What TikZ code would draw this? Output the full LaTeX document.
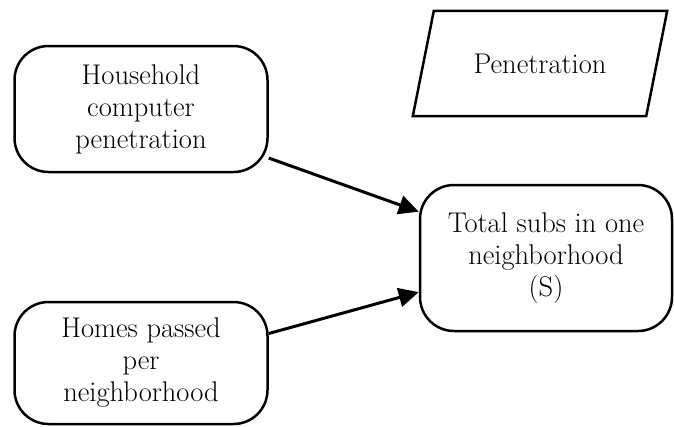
\documentclass[tikz,border=0pt]{standalone}
\usetikzlibrary{arrows.meta,calc}
\begin{document}
\begin{tikzpicture}[x=1pt,y=-1pt,
  box/.style={draw,line width=2.5pt,rounded corners=34pt,align=center,inner sep=0pt,
    font=\fontsize{28.5}{32}\selectfont},
  lbl/.style={align=center,inner sep=0pt,font=\fontsize{28.5}{32}\selectfont},
  arr/.style={line width=3pt,-{Triangle[length=20pt,width=19pt]}}]
\useasboundingbox (0,0) rectangle (674,426);
\node[box,minimum width=253pt,minimum height=126pt] (hh) at (141,109) {Household\\computer\\penetration};
\node[box,minimum width=253pt,minimum height=122pt] (hp) at (141,363) {Homes passed\\per\\neighborhood};
\node[box,minimum width=252pt,minimum height=146pt] (ts) at (546,258) {Total subs in one\\neighborhood\\(S)};
\node[lbl,minimum width=233pt,minimum height=105pt] (pe) at (540,63.5) {Penetration};
\draw[line width=2.5pt,line join=miter] ($(pe.north west)+(10.5,0)$) -- ($(pe.north east)+(10.5,0)$)
  -- ($(pe.south east)+(-10.5,0)$) -- ($(pe.south west)+(-10.5,0)$) -- cycle;
\draw[arr] (hh.-21) -- (ts.160);
\draw[arr] (hp.13.5) -- (ts.195);
\end{tikzpicture}
\end{document}
